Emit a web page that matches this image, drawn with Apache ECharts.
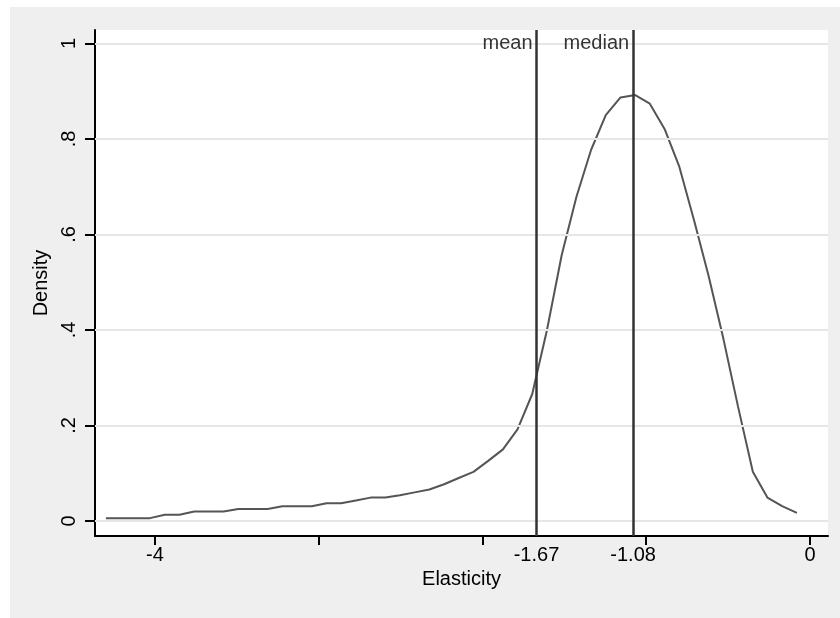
<!DOCTYPE html>
<html>
<head>
<meta charset="utf-8">
<script src="https://cdn.jsdelivr.net/npm/echarts@6/dist/echarts.min.js"></script>
<style>
  html, body { margin: 0; padding: 0; background: #fff; }
  #chart { width: 840px; height: 618px; }
</style>
</head>
<body>
<div id="chart"></div>
<script>
// kernel density estimate of elasticity
const elasticity = [
  -4.299, -4.209, -4.119, -4.030, -3.940, -3.850, -3.760, -3.671, -3.581, -3.491,
  -3.401, -3.312, -3.222, -3.132, -3.042, -2.952, -2.863, -2.773, -2.683, -2.593,
  -2.504, -2.414, -2.324, -2.234, -2.145, -2.055, -1.965, -1.875, -1.786, -1.696,
  -1.606, -1.516, -1.426, -1.337, -1.247, -1.157, -1.067, -0.978, -0.888, -0.798,
  -0.708, -0.619, -0.529, -0.439, -0.349, -0.260, -0.170, -0.080
]
const density = [
  0.006, 0.006, 0.006, 0.006, 0.013, 0.013, 0.020, 0.020, 0.020, 0.025,
  0.025, 0.025, 0.031, 0.031, 0.031, 0.037, 0.037, 0.043, 0.049, 0.049,
  0.054, 0.060, 0.066, 0.077, 0.090, 0.103, 0.126, 0.150, 0.192, 0.266,
  0.400, 0.557, 0.679, 0.777, 0.850, 0.887, 0.892, 0.874, 0.821, 0.742,
  0.630, 0.513, 0.382, 0.239, 0.103, 0.049, 0.031, 0.017
]
const refValues = [-1.67, -1.08]
const refNames = ['mean', 'median']
const xTicks = [-4, -3, -2, -1, 0]
const xLabels = [-4, -1.67, -1.08, 0]
const yTicks = [0, 0.2, 0.4, 0.6, 0.8, 1]

const font = '"Liberation Sans", Arial, sans-serif'
const chart = echarts.init(document.getElementById('chart'))

const option = {
  animation: false,
  backgroundColor: '#fff',
  graphic: [{
    type: 'rect',
    z: -10,
    shape: { x: 10, y: 7, width: 830, height: 611 },
    style: { fill: '#efefef' },
    silent: true
  }],
  grid: {
    left: 95, top: 30, right: 12, bottom: 82,
    show: true, backgroundColor: '#fff', borderWidth: 0
  },
  xAxis: {
    type: 'value',
    min: -4.366, max: 0.11,
    name: 'Elasticity',
    nameLocation: 'middle',
    nameGap: 30,
    nameTextStyle: { color: '#000', fontSize: 20, fontFamily: font },
    axisLine: { onZero: false, lineStyle: { color: '#000', width: 2 } },
    axisTick: { customValues: xTicks, length: 9, lineStyle: { color: '#000', width: 2 } },
    axisLabel: {
      customValues: xLabels, margin: 9, color: '#000', fontSize: 20, fontFamily: font,
      formatter: v => String(v)
    },
    splitLine: { show: false }
  },
  yAxis: {
    type: 'value',
    min: -0.0314, max: 1.0283,
    name: 'Density',
    nameLocation: 'middle',
    nameRotate: 90,
    nameGap: 36,
    nameTextStyle: { color: '#000', fontSize: 20, fontFamily: font },
    axisLine: { onZero: false, lineStyle: { color: '#000', width: 2 } },
    axisTick: { customValues: yTicks, length: 10, lineStyle: { color: '#000', width: 2 } },
    axisLabel: {
      customValues: yTicks, rotate: 90, margin: 16, color: '#000', fontSize: 20, fontFamily: font,
      formatter: v => (v === 0 || v === 1) ? String(v) : String(v).replace(/^0/, '')
    },
    splitLine: { show: false }
  },
  series: [
    {
      // horizontal grid lines
      type: 'line',
      data: [],
      z: 0,
      markLine: {
        silent: true,
        symbol: ['none', 'none'],
        label: { show: false },
        lineStyle: { color: '#e6e6e6', width: 2, type: 'solid' },
        data: yTicks.map(v => ({ yAxis: v }))
      }
    },
    {
      type: 'line',
      data: elasticity.map((x, i) => [x, density[i]]),
      showSymbol: false,
      z: 3,
      lineStyle: { color: '#555555', width: 2 },
      markLine: {
        silent: true,
        symbol: ['none', 'none'],
        label: { show: false },
        lineStyle: { color: '#333333', width: 2.5, type: 'solid' },
        data: refValues.map(v => ({ xAxis: v }))
      }
    },
    {
      type: 'scatter',
      symbolSize: 0,
      zlevel: 1,
      z: 10,
      data: refValues.map((v, i) => ({ value: [v, 1], name: refNames[i] })),
      label: {
        show: true, position: 'left', distance: 4,
        formatter: p => p.name,
        color: '#000', fontSize: 20, fontFamily: font
      }
    }
  ]
}
chart.setOption(option)
</script>
</body>
</html>
